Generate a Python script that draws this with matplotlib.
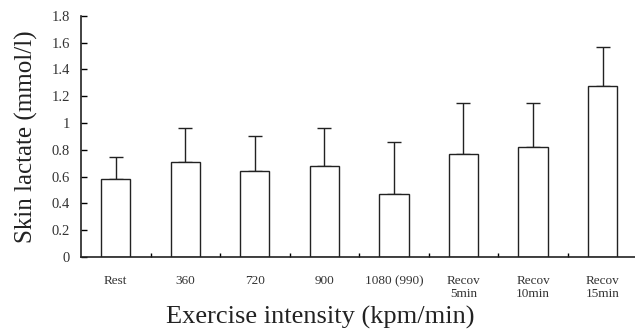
import matplotlib.pyplot as plt
import numpy as np

plt.rcParams['font.family'] = ['Liberation Serif', 'DejaVu Serif']

# data
labels = ['Rest', '360', '720', '900', '1080 (990)',
          'Recov\n5min', 'Recov\n10min', 'Recov\n15min']
means = [0.58, 0.71, 0.64, 0.68, 0.47, 0.77, 0.82, 1.28]
upper = [0.75, 0.96, 0.90, 0.96, 0.86, 1.15, 1.15, 1.57]
sd = [u - m for u, m in zip(upper, means)]
yticks = [0, 0.2, 0.4, 0.6, 0.8, 1, 1.2, 1.4, 1.6, 1.8]
ytick_labels = ['0', '0.2', '0.4', '0.6', '0.8', '1', '1.2', '1.4', '1.6', '1.8']

fig = plt.figure(figsize=(6.35, 3.32), dpi=100)
ax = fig.add_axes([0.1276, 0.226, 0.876, 0.726])

x = np.arange(len(labels))
ax.bar(x, means, width=0.42, color='white', edgecolor='#222222', linewidth=1.0, zorder=2)
ax.errorbar(x, means, yerr=[[0] * len(sd), sd], fmt='none', ecolor='#222222',
            elinewidth=1.0, capsize=5, capthick=1.0, zorder=1)

ax.set_xlim(-0.5, len(labels) - 0.5)
ax.set_ylim(0, 1.8)
ax.set_yticks(yticks)
ax.set_yticklabels(ytick_labels, fontsize=10.5, color='#333333')
ax.set_xticks(x + 0.5)
ax.set_xticklabels([])
ax.set_xticks(x, minor=True)
ax.set_xticklabels(labels, minor=True, fontsize=9.5, va='top', linespacing=1.1,
                   color='#333333')
ax.tick_params(axis='x', which='major', direction='in', length=3, width=1)
ax.tick_params(axis='x', which='minor', length=0, pad=13)
ax.tick_params(axis='y', direction='in', length=4, width=1, pad=8)

for s in ['top', 'right']:
    ax.spines[s].set_visible(False)
for s in ['left', 'bottom']:
    ax.spines[s].set_linewidth(1.2)
    ax.spines[s].set_color('#222222')

ax.set_ylabel('Skin lactate (mmol/l)', fontsize=18, labelpad=10, color='#222222')
ax.set_xlabel('Exercise intensity (kpm/min)', fontsize=19, color='#222222')
ax.xaxis.set_label_coords(0.43, -0.205)

fig.savefig('out.png', dpi=100)
